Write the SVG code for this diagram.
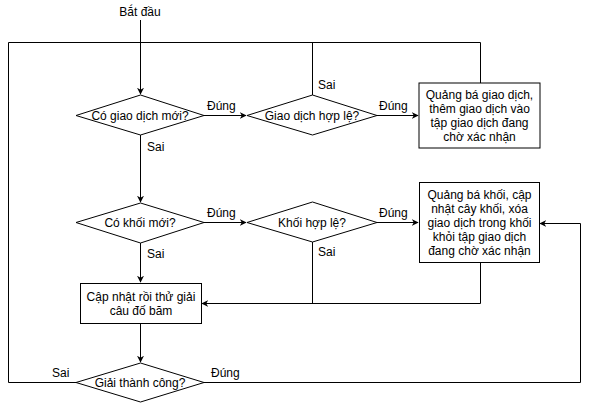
<svg xmlns="http://www.w3.org/2000/svg" width="589" height="403" viewBox="0 0 589 403">
<style>
text{font-family:"Liberation Sans",Arial,sans-serif;font-size:12px;fill:#000}
.c{text-anchor:middle}
.shape{fill:#fff;stroke:#000;stroke-width:1}
.ln{fill:none;stroke:#000;stroke-width:1}
</style>
<defs>
<marker id="ah" viewBox="0 0 10 10" refX="9" refY="5" markerWidth="7" markerHeight="7" markerUnits="userSpaceOnUse" orient="auto">
<path d="M0,0 L10,5 L0,10 L3,5 Z" fill="#000"/>
</marker>
</defs>
<rect width="589" height="403" fill="#fff"/>
<g id="connectors">
<path class="ln" d="M140.5,20 V94" marker-end="url(#ah)"/>
<path class="ln" d="M76,382.5 H8.5 V42.5 H480.5 V83"/>
<path class="ln" d="M312.5,95 V42.5"/>
<path class="ln" d="M204,115.5 H246" marker-end="url(#ah)"/>
<path class="ln" d="M377,115.5 H418" marker-end="url(#ah)"/>
<path class="ln" d="M140.5,135 V202" marker-end="url(#ah)"/>
<path class="ln" d="M204,222.5 H246" marker-end="url(#ah)"/>
<path class="ln" d="M377,222.5 H418" marker-end="url(#ah)"/>
<path class="ln" d="M140.5,243 V282" marker-end="url(#ah)"/>
<path class="ln" d="M312.5,242 V303.5"/>
<path class="ln" d="M480.5,262 V303.5 H202" marker-end="url(#ah)"/>
<path class="ln" d="M140.5,323 V362" marker-end="url(#ah)"/>
<path class="ln" d="M204,382.5 H580.5 V223.5 H540" marker-end="url(#ah)"/>
<text x="207" y="110">Đúng</text>
<text x="379" y="110">Đúng</text>
<text x="318" y="89">Sai</text>
<text x="147" y="151">Sai</text>
<text x="207" y="217">Đúng</text>
<text x="379" y="217">Đúng</text>
<text x="318" y="256">Sai</text>
<text x="147" y="258">Sai</text>
<text x="52" y="377">Sai</text>
<text x="211" y="377">Đúng</text>
</g>
<g id="start"><text class="c" x="140" y="16">Bắt đầu</text></g>
<g id="d1">
<path class="shape" d="M140.5,95 L204,115.5 L140.5,135 L76,115.5 Z"/>
<text class="c" x="140" y="119.5">Có giao dịch mới?</text>
</g>
<g id="d2">
<path class="shape" d="M312.5,95 L377,115.5 L312.5,135 L247,115.5 Z"/>
<text class="c" x="312" y="119.5">Giao dịch hợp lệ?</text>
</g>
<g id="b1">
<rect class="shape" x="419" y="83" width="121" height="65"/>
<text class="c" x="479.5" y="99">Quảng bá giao dịch,</text>
<text class="c" x="479.5" y="113">thêm giao dịch vào</text>
<text class="c" x="479.5" y="127">tập giao dịch đang</text>
<text class="c" x="479.5" y="141">chờ xác nhận</text>
</g>
<g id="d3">
<path class="shape" d="M140.5,203 L204,222.5 L140.5,243 L76,222.5 Z"/>
<text class="c" x="140" y="226.5">Có khối mới?</text>
</g>
<g id="d4">
<path class="shape" d="M312.5,202 L377,222.5 L312.5,242 L247,222.5 Z"/>
<text class="c" x="312" y="226.5">Khối hợp lệ?</text>
</g>
<g id="b2">
<rect class="shape" x="419.5" y="182.5" width="120" height="80"/>
<text class="c" x="479.5" y="199">Quảng bá khối, cập</text>
<text class="c" x="479.5" y="213">nhật cây khối, xóa</text>
<text class="c" x="479.5" y="227">giao dịch trong khối</text>
<text class="c" x="479.5" y="241">khỏi tập giao dịch</text>
<text class="c" x="479.5" y="255">đang chờ xác nhận</text>
</g>
<g id="b3">
<rect class="shape" x="80.5" y="283.5" width="121" height="40"/>
<text class="c" x="141" y="301">Cập nhật rồi thử giải</text>
<text class="c" x="141" y="315">câu đố băm</text>
</g>
<g id="d5">
<path class="shape" d="M140.5,363 L204,382.5 L140.5,402 L76,382.5 Z"/>
<text class="c" x="140" y="386.5">Giải thành công?</text>
</g>
</svg>
